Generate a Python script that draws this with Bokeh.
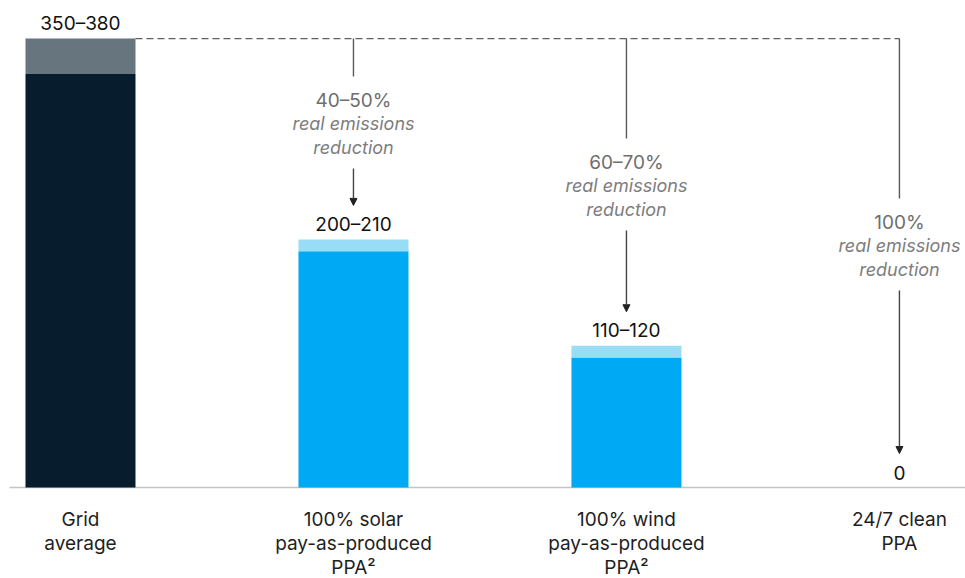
from bokeh.plotting import figure
from bokeh.models import Range1d, Arrow, NormalHead, ColumnDataSource
from bokeh.core.properties import value
from bokeh.embed import file_html
from bokeh.resources import INLINE

# Emissions intensity ranges per sourcing option (low / high end)
categories = ["Grid\naverage", "100% solar\npay-as-produced\nPPA\u00b2",
              "100% wind\npay-as-produced\nPPA\u00b2", "24/7 clean\nPPA"]
low_values = [350, 200, 110, 0]
high_values = [380, 210, 120, 0]
range_labels = ["350\u2013380", "200\u2013210", "110\u2013120", "0"]

# Real emissions reduction vs. grid average
reduction_labels = ["40\u201350%", "60\u201370%", "100%"]
reduction_targets = [1, 2, 3]

base_colors = ["#071c2c", "#00a9f4", "#00a9f4", "#00a9f4"]
range_colors = ["#67757e", "#99dcf6", "#99dcf6", "#99dcf6"]

FONT = "Inter"
W, H = 965, 578
BASE_PX = 487                     # baseline position from the top
Y1 = 412.2                        # value at the top edge
K = BASE_PX / Y1                  # screen pixels per data unit
Y0 = -(H - BASE_PX) / K           # room below the baseline for category labels


def up(px):
    """Convert a pixel distance into data units on the y scale."""
    return px / K


def y_at(px_from_top):
    return Y1 - px_from_top / K


xs = list(range(len(categories)))
BAR_W = 0.403

p = figure(width=W, height=H, x_range=Range1d(-0.293, 3.242), y_range=Range1d(Y0, Y1),
           output_backend="svg", toolbar_location=None,
           x_axis_location=None, y_axis_location=None,
           min_border_left=0, min_border_right=0, min_border_top=0, min_border_bottom=0)
p.outline_line_color = None
p.grid.visible = False
p.background_fill_color = "white"
p.border_fill_color = "white"

# baseline
p.segment(x0=[-0.26], y0=[0], x1=[3.242], y1=[0], line_color="#c4c4c4", line_width=1.5)

src = ColumnDataSource(dict(x=xs, low=low_values, high=high_values, label=range_labels,
                            base=base_colors, rng=range_colors))
p.vbar(x="x", bottom=0, top="low", width=BAR_W, fill_color="base", line_color=None, source=src)
p.vbar(x="x", bottom="low", top="high", width=BAR_W, fill_color="rng", line_color=None, source=src)

p.text(x="x", y="high", text="label", source=src, y_offset=-15,
       text_align="center", text_baseline="middle", text_font=value(FONT),
       text_font_size="19px", text_color="#111111")

# category labels under the baseline, one text row per line
cx, cy, ct, coff = [], [], [], []
for x, cat in zip(xs, categories):
    for i, line in enumerate(cat.split("\n")):
        cx.append(x)
        cy.append(0)
        ct.append(line)
        coff.append(32 + 24 * i)
p.text(x=cx, y=cy, text=ct, y_offset=coff, text_align="center", text_baseline="middle",
       text_font=value(FONT), text_font_size="19px", text_color="#1e1e1e")

# dashed reference line at grid-average top
grid_top = high_values[0]
p.segment(x0=[xs[0] + BAR_W / 2], y0=[grid_top], x1=[reduction_targets[-1]], y1=[grid_top],
          line_color="#606060", line_width=1.3, line_dash="7 4")

# reduction annotations: connector, text block, arrow to the reduced value
text_centers_px = [123, 185, 245]
line_color = "#5a5a5a"
for lbl, tgt, cpx in zip(reduction_labels, reduction_targets, text_centers_px):
    yc = y_at(cpx)
    p.segment(x0=[tgt], y0=[grid_top], x1=[tgt], y1=[yc + up(47)],
              line_color=line_color, line_width=1.4)
    p.text(x=[tgt], y=[yc + up(23)], text=[lbl], text_align="center", text_baseline="middle",
           text_font=value(FONT), text_font_size="19px", text_color="#6e6e6e")
    p.text(x=[tgt, tgt], y=[yc, yc - up(24)], text=["real emissions", "reduction"],
           text_align="center", text_baseline="middle", text_font=value(FONT),
           text_font_style="italic", text_font_size="18px", text_color="#7d7d7d")
    tip = high_values[tgt] + up(34)
    p.add_layout(Arrow(end=NormalHead(size=7, fill_color="#222222", line_color="#222222"),
                       x_start=tgt, y_start=yc - up(45), x_end=tgt, y_end=tip,
                       line_color="#444444", line_width=1.4))

open("out.html", "w").write(file_html(p, INLINE))
